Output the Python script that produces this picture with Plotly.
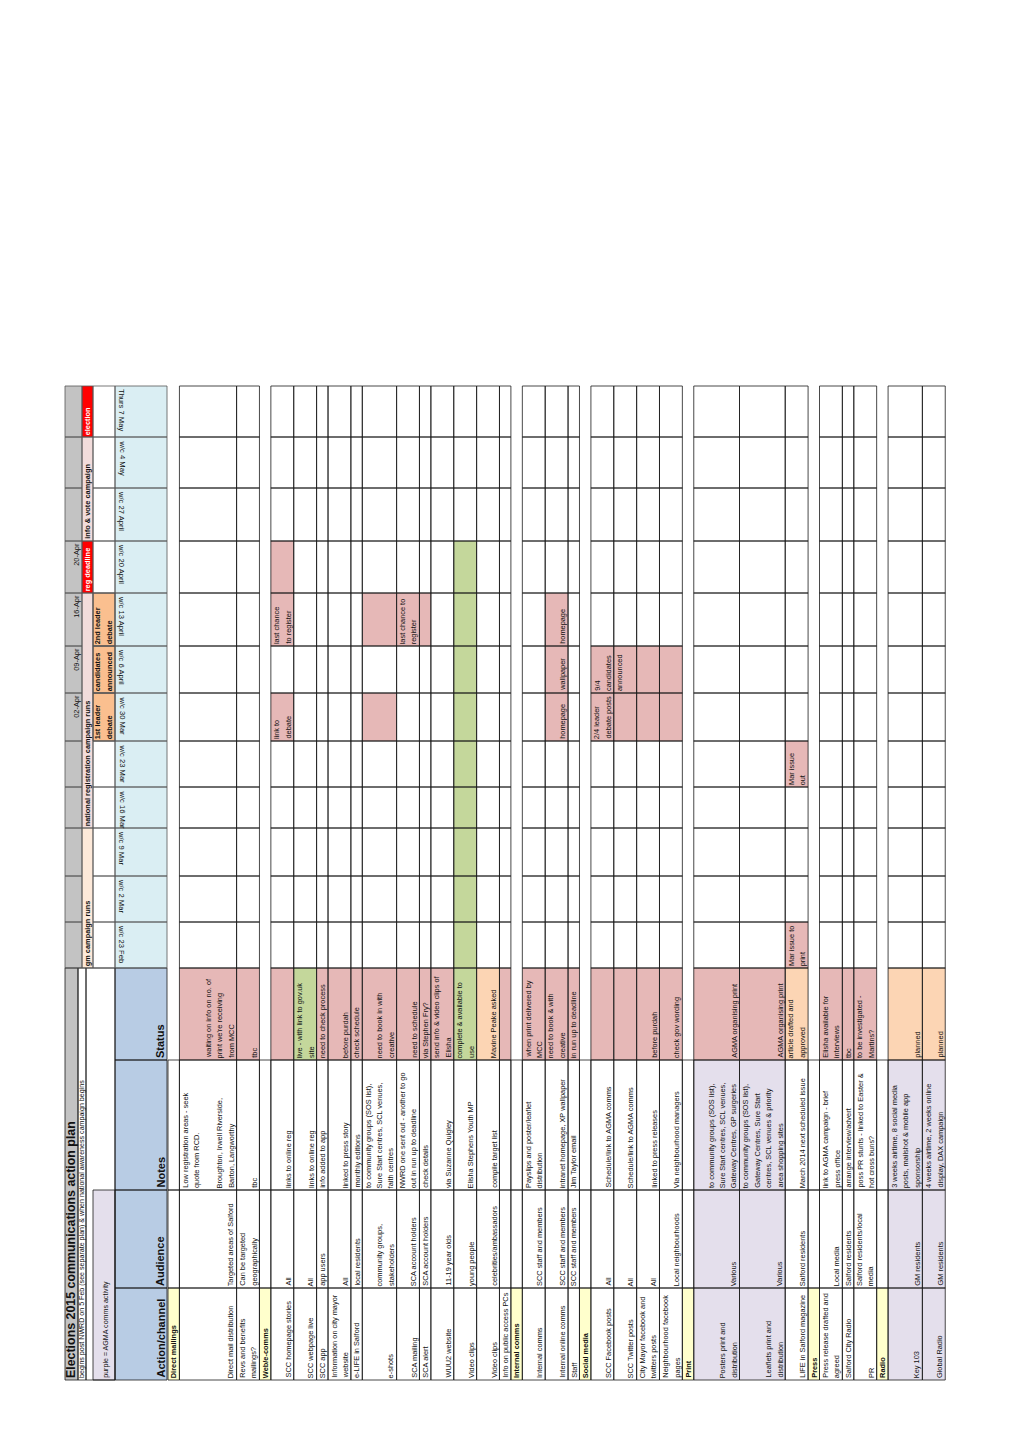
import plotly.graph_objects as go

# ---------------- sheet content ----------------
title = "Elections 2015 communications action plan"
subtitle = "begins post NWRD on 5 Feb (see separate plan) & when national awareness campaign begins"
key_note = "purple = AGMA comms activity"
headers = ["Action/channel", "Audience", "Notes", "Status"]

weeks = ["w/c 23 Feb", "w/c 2 Mar", "w/c 9 Mar", "w/c 16 Mar", "w/c 23 Mar", "w/c 30 Mar",
         "w/c 6 April", "w/c 13 April", "w/c 20 April", "w/c 27 April", "w/c 4 May", "Thurs 7 May"]
week_dates = ["", "", "", "", "", "02-Apr", "09-Apr", "16-Apr", "20-Apr", "", "", ""]

campaign_labels = ["gm campaign runs", "national registration campaign runs", "reg deadline",
                   "info & vote campaign", "election"]
campaign_first = [0, 3, 8, 9, 11]
campaign_last = [2, 7, 8, 10, 11]
campaign_kind = ["gm", "national", "key", "national", "key"]

event_weeks = [5, 6, 7]
event_labels = ["1st leader\ndebate", "candidates\nannounced", "2nd leader\ndebate"]

actions = [
    "Direct mailings",
    "Direct mail distribution",
    "Revs and benefits\nmailings?",
    "Web/e-comms",
    "SCC homepage stories",
    "SCC webpage live",
    "SCC app",
    "Information on city mayor\nwebsite",
    "e-LIFE in Salford",
    "e-shots",
    "SCA mailing",
    "SCA alert",
    "WUU2 website",
    "Video clips",
    "Video clips",
    "Info on public access PCs",
    "Internal comms",
    "Internal comms",
    "Internal online comms",
    "Staff",
    "Social media",
    "SCC Facebook posts",
    "SCC Twitter posts",
    "City Mayor facebook and\ntwitters posts",
    "Neighbourhood facebook\npages",
    "Print",
    "Posters print and\ndistribution",
    "Leaflets print and\ndistribution",
    "LIFE in Salford magazine",
    "Press",
    "Press release drafted and\nagreed",
    "Salford City Radio",
    "PR",
    "Radio",
    "Key 103",
    "Global Radio",
]
audiences = [
    "", "Targeted areas of Salford", "Can be targeted\ngeographically",
    "", "All", "All", "app users", "All", "local residents",
    "community groups,\nstakeholders", "SCA account holders", "SCA account holders",
    "11-19 year olds", "young people", "celebrities/ambassadors", "",
    "", "SCC staff and members", "SCC staff and members", "SCC staff and members",
    "", "All", "All", "All", "Local neighbourhoods",
    "", "Various", "Various", "Salford residents",
    "", "Local media", "Salford residents", "Salford residents/local\nmedia",
    "", "GM residents", "GM residents",
]
notes = [
    "",
    "Low registration areas - seek\nquote from RCD.\n\nBroughton, Irwell Riverside,\nBarton, Langworthy",
    "tbc",
    "",
    "links to online reg",
    "links to online reg",
    "info added to app",
    "linked to press story",
    "monthly editions",
    "to community groups (SOS list),\nSure Start centres, SCL venues,\nfaith centres",
    "NWRD one sent out - another to go\nout in run up to deadline",
    "check details",
    "via Suzanne Quigley",
    "Elisha Stephens Youth MP",
    "compile target list",
    "",
    "",
    "Payslips and poster/leaflet\ndistribution",
    "intranet homepage, XP wallpaper",
    "Jim Taylor email",
    "",
    "Schedule/link to AGMA comms",
    "Schedule/link to AGMA comms",
    "linked to press releases",
    "Via neighbourhood managers",
    "",
    "to community groups (SOS list),\nSure Start centres, SCL venues,\nGateway Centres, GP surgeries",
    "to community groups (SOS list),\nGateway Centres, Sure Start\ncentres, SCL venues & priority\narea shopping sites",
    "March 2014 next scheduled issue",
    "",
    "link to AGMA campaign - brief\npress office",
    "arrange interview/advert",
    "poss PR stunts - linked to Easter &\nhot cross buns?",
    "",
    "3 weeks airtime, 8 social media\nposts, mailshot & mobile app\nsponsorship",
    "4 weeks airtime, 2 weeks online\ndisplay, DAX campaign",
]
statuses = [
    "", "waiting on info on no. of\nprint we're receiving\nfrom MCC", "tbc",
    "", "", "live - with link to gov.uk\nsite", "need to check process", "before purdah",
    "check schedule", "need to book in with\ncreative", "need to schedule", "via Stephen Fry?",
    "send info & video clips of\nElisha", "complete & available to\nuse", "Maxine Peake asked", "",
    "", "when print delivered by\nMCC", "need to book & with\ncreative", "in run up to deadline",
    "", "", "", "before purdah", "check gov wording",
    "", "AGMA organising print", "AGMA organising print", "article drafted and\napproved",
    "", "Elisha available for\ninterviews", "tbc", "to be investigated -\nMartins?",
    "", "planned", "planned",
]
status_kind = [
    "section", "todo", "todo",
    "section", "todo", "done", "todo", "todo", "todo", "todo", "todo", "todo",
    "todo", "done", "planned", "todo",
    "section", "todo", "todo", "todo",
    "section", "todo", "todo", "todo", "todo",
    "section", "todo", "todo", "planned",
    "section", "todo", "todo", "todo",
    "section", "planned", "planned",
]
agma_rows = [26, 27, 34, 35]

# activity in the weekly grid
wc_row_first = [4, 4, 4, 9, 9, 10, 11, 13, 18, 18, 18, 21, 21, 28, 28]
wc_row_last = [4, 4, 4, 9, 9, 10, 11, 13, 18, 18, 18, 24, 24, 28, 28]
wc_week_first = [5, 7, 8, 5, 7, 7, 7, 0, 5, 6, 7, 5, 6, 0, 4]
wc_week_last = [5, 7, 8, 5, 7, 7, 7, 8, 5, 6, 7, 5, 6, 0, 4]
wc_text = ["link to\ndebate", "last chance\nto register", "", "", "", "last chance to\nregister", "",
           "", "homepage", "wallpaper", "homepage", "2/4 leader\ndebate posts",
           "9/4\ncandidates\nannounced", "Mar issue to\nprint", "Mar issue\nout"]
wc_kind = ["todo"] * 7 + ["done"] + ["todo"] * 7

# ---------------- layout / style ----------------
FONT = "Liberation Sans"
BODY = 7.4
LH = 11.43
row_lines = [1, 5, 2, 1, 2, 2, 1, 2, 1, 3, 2, 1, 2, 2, 2, 1, 1, 2, 2, 1, 1, 2, 2, 2, 2,
             1, 4, 4, 2, 1, 2, 1, 2, 1, 3, 2]
BODY_X0 = 168
left_cols = [(1288, 1380), (1190, 1288), (1060, 1190), (968, 1060)]  # (top y, bottom y)
week_edges = [968, 922, 876, 828, 787, 741, 693, 646, 593, 541, 488, 437, 386]
PAGE_OFFSET = 8  # browser body margin

C = dict(todo="#E6B8B7", done="#C4D79B", planned="#FCD5B4", agma="#E4DFEC",
         section="#FFFFCC", head="#B8CCE4", week="#DAEEF3", gray="#C3C3C3",
         gm="#FDE9D9", national="#F2DCDB", key="#FF0000", event="#FABF8F")
LINE = "#1a1a1a"

fills, borders, annotations = [], [], []


def rect(x0, x1, y0, y1, fill=None, border=True, color=LINE, width=0.8):
    if fill:
        fills.append(dict(type="rect", xref="x", yref="y", x0=x0, x1=x1, y0=y0, y1=y1,
                          fillcolor=fill, line=dict(width=0)))
    if border:
        borders.append(dict(type="rect", xref="x", yref="y", x0=x0, x1=x1, y0=y0, y1=y1,
                            fillcolor="rgba(0,0,0,0)", line=dict(color=color, width=width)))


def put(x0, x1, ytop, ybot, text, size=BODY, bold=False, color="#111", valign="bottom",
        halign="left", angle=-90, lh=LH):
    lines = text.split("\n")
    n = len(lines)
    for i, ln in enumerate(lines):
        if not ln:
            continue
        xc = x1 - (n - i - 0.5) * lh if valign == "bottom" else x0 + (i + 0.5) * lh
        if halign == "left":
            y, ya = ybot - 2, "bottom"
        else:
            y, ya = ytop + 2, "top"
        annotations.append(dict(
            x=xc, y=y, xref="x", yref="y", text=f"<b>{ln}</b>" if bold else ln,
            showarrow=False, textangle=angle, xanchor="center", yanchor=ya,
            borderpad=0, borderwidth=0, font=dict(family=FONT, size=size, color=color)))


# ---- header block, left part ----
L_TOP, L_BOT = left_cols[3][0], left_cols[0][1]
rect(65, 78, L_TOP, L_BOT, C["gray"])
put(65, 76.5, L_TOP, L_BOT, title, size=12.4, bold=True, lh=12)
rect(78, 86, L_TOP, L_BOT)
put(78, 86.5, L_TOP, L_BOT, subtitle, size=7.1, lh=9)
rect(86, 115, L_TOP, L_BOT)
rect(93, 115, left_cols[1][0], L_BOT, C["agma"])
put(93, 111, left_cols[1][0], L_BOT, key_note, size=7.1)
for (yt, yb), h in zip(left_cols, headers):
    rect(115, 167, yt, yb, C["head"])
    put(115, 167, yt, yb, h, size=11, bold=True, lh=14)

# ---- header block, weekly part ----
for j, (wk, dt) in enumerate(zip(weeks, week_dates)):
    yb, yt = week_edges[j], week_edges[j + 1]
    rect(65, 82, yt, yb, C["gray"], color="#555")
    put(65, 82, yt, yb, dt, size=BODY, halign="right")
    rect(115, 167, yt, yb, C["week"], color="#555")
    annotations.append(dict(x=122, y=yt + 2, xref="x", yref="y", text=wk, showarrow=False,
                            textangle=90, xanchor="center", yanchor="top", borderpad=0,
                            font=dict(family=FONT, size=7.6, color="#111")))
    rect(93, 115, yt, yb, color="#555")

for lab, a, b, k in zip(campaign_labels, campaign_first, campaign_last, campaign_kind):
    yb, yt = week_edges[a], week_edges[b + 1]
    rect(82, 93, yt, yb, C[k], color="#555")
    put(82, 93, yt, yb, lab, size=BODY, bold=True, color="#fff" if k == "key" else "#111")

for j, lab in zip(event_weeks, event_labels):
    yb, yt = week_edges[j], week_edges[j + 1]
    rect(93, 115, yt, yb, C["event"], color="#555")
    put(93, 115, yt, yb, lab, size=BODY, bold=True)

# ---- body ----
row_x = [BODY_X0]
for n in row_lines:
    row_x.append(row_x[-1] + n * LH)

for r in range(len(actions)):
    x0, x1 = row_x[r], row_x[r + 1]
    if status_kind[r] == "section":
        rect(x0, x1, *left_cols[0], C["section"])
        put(x0, x1, *left_cols[0], actions[r], bold=True)
        rect(x0, x1, *left_cols[1])
        rect(x0, x1, *left_cols[2])
        continue
    bg = C["agma"] if r in agma_rows else None
    for (yt, yb), txt in zip(left_cols[:3], [actions[r], audiences[r], notes[r]]):
        rect(x0, x1, yt, yb, bg)
        put(x0, x1, yt, yb, txt)
    rect(x0, x1, *left_cols[3], C[status_kind[r]])
    put(x0, x1, *left_cols[3], statuses[r])
    for j in range(len(weeks)):
        rect(x0, x1, week_edges[j + 1], week_edges[j])

for rf, rl, wf, wl, txt, k in zip(wc_row_first, wc_row_last, wc_week_first, wc_week_last,
                                  wc_text, wc_kind):
    x0, x1 = row_x[rf], row_x[rl + 1]
    yb, yt = week_edges[wf], week_edges[wl + 1]
    fills.append(dict(type="rect", xref="x", yref="y", x0=x0, x1=x1, y0=yt, y1=yb,
                      fillcolor=C[k], line=dict(width=0)))
    put(x0, x1, yt, yb, txt, valign="top" if rl > rf else "bottom")

fig = go.Figure()
fig.update_layout(
    width=1020, height=1442, margin=dict(l=0, r=0, t=0, b=0),
    paper_bgcolor="white", plot_bgcolor="white", showlegend=False,
    xaxis=dict(range=[PAGE_OFFSET, 1020 + PAGE_OFFSET], showgrid=False, zeroline=False,
               showticklabels=False, ticks="", fixedrange=True),
    yaxis=dict(range=[1442 + PAGE_OFFSET, PAGE_OFFSET], showgrid=False, zeroline=False,
               showticklabels=False, ticks="", fixedrange=True),
    shapes=fills + borders,
    annotations=annotations,
)
fig.write_html("out.html")
